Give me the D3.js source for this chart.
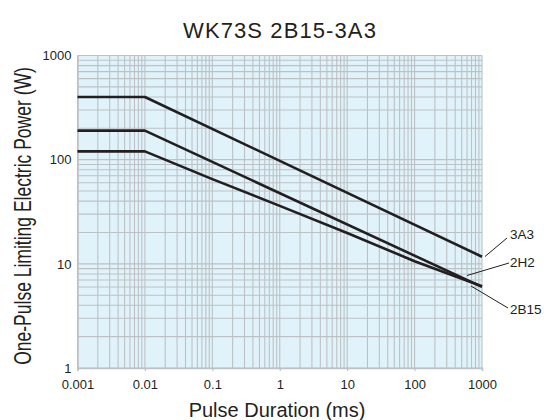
<!DOCTYPE html>
<html>
<head>
<meta charset="utf-8">
<script src="https://cdn.jsdelivr.net/npm/d3@7"></script>
<style>
  body { margin: 0; background: #fff; }
  text { font-family: "Liberation Sans", Arial, sans-serif; fill: #231f20; }
</style>
</head>
<body>
<div id="chart"></div>
<script>
// pulse duration (ms) and limiting power (W)
const duration3A3 = [0.001, 0.01, 1000];
const power3A3 = [400, 400, 11.7];
const duration2H2 = [0.001, 0.01, 1000];
const power2H2 = [190, 190, 6.0];
const duration2B15 = [0.001, 0.01, 0.1, 1, 10, 100, 1000];
const power2B15 = [120, 120, 65, 36, 19.8, 10.6, 6.1];
const seriesNames = ["3A3", "2H2", "2B15"];
const xTicks = [0.001, 0.01, 0.1, 1, 10, 100, 1000];
const xTickLabels = ["0.001", "0.01", "0.1", "1", "10", "100", "1000"];
const yTicks = [1, 10, 100, 1000];
const yTickLabels = ["1", "10", "100", "1000"];

const width = 544, height = 420;
const margin = { top: 55.5, right: 62, bottom: 52, left: 77.5 };

const svg = d3.select("#chart").append("svg")
  .attr("width", width)
  .attr("height", height);

const x = d3.scaleLog().domain([0.001, 1000]).range([margin.left, width - margin.right]);
const y = d3.scaleLog().domain([1, 1000]).range([height - margin.bottom, margin.top]);

// plot background
svg.append("rect")
  .attr("x", x(0.001)).attr("y", y(1000))
  .attr("width", x(1000) - x(0.001))
  .attr("height", y(1) - y(1000))
  .attr("fill", "#e1f3fa");

// log grid: every 1..9 step in each decade
const xGrid = [];
for (let e = -3; e < 3; e++) for (let m = 1; m <= 9; m++) xGrid.push(m * Math.pow(10, e));
xGrid.push(1000);
const yGrid = [];
for (let e = 0; e < 3; e++) for (let m = 1; m <= 9; m++) yGrid.push(m * Math.pow(10, e));
yGrid.push(1000);

const grid = svg.append("g").attr("stroke", "#bdc1c5").attr("stroke-width", 1.1);
grid.selectAll("line.v").data(xGrid).enter().append("line")
  .attr("x1", d => x(d)).attr("x2", d => x(d))
  .attr("y1", y(1000)).attr("y2", y(1));
grid.selectAll("line.h").data(yGrid).enter().append("line")
  .attr("x1", x(0.001)).attr("x2", x(1000))
  .attr("y1", d => y(d)).attr("y2", d => y(d));

// axes
const xAxis = d3.axisBottom(x).tickValues(xTicks)
  .tickFormat((d, i) => xTickLabels[i]).tickSize(3).tickPadding(9);
const gx = svg.append("g")
  .attr("transform", `translate(0,${y(1)})`)
  .call(xAxis);
gx.select(".domain").attr("stroke", "#bdc1c5").attr("stroke-width", 1.5);
gx.selectAll(".tick line").attr("stroke", "#bdc1c5").attr("stroke-width", 1.2);
gx.selectAll("text").attr("font-size", 13).attr("fill", "#231f20")
  .attr("font-family", "Liberation Sans, Arial, sans-serif");

const yAxis = d3.axisLeft(y).tickValues(yTicks)
  .tickFormat((d, i) => yTickLabels[i]).tickSize(0).tickPadding(6);
const gy = svg.append("g")
  .attr("transform", `translate(${x(0.001)},0)`)
  .call(yAxis);
gy.select(".domain").attr("stroke", "#bdc1c5").attr("stroke-width", 1.5);
gy.selectAll("text").attr("font-size", 13).attr("fill", "#231f20")
  .attr("font-family", "Liberation Sans, Arial, sans-serif");

// curves (straight in log-log, 2B15 bends a little near the end)
const series = [
  { name: seriesNames[0], xs: duration3A3, ys: power3A3 },
  { name: seriesNames[1], xs: duration2H2, ys: power2H2 },
  { name: seriesNames[2], xs: duration2B15, ys: power2B15 }
];
const line = d3.line()
  .x(d => x(d[0]))
  .y(d => y(d[1]));

svg.append("g").selectAll("path")
  .data(series)
  .enter().append("path")
  .attr("d", s => line(s.xs.map((v, i) => [v, s.ys[i]])))
  .attr("fill", "none")
  .attr("stroke", "#231f20")
  .attr("stroke-width", 2.6)
  .attr("stroke-linejoin", "round");

// leader lines and labels on the right
const leaders = [
  { name: seriesNames[0], x1: 485, y1: 256.5, x2: 507, y2: 238, ty: 234 },
  { name: seriesNames[1], x1: 467, y1: 275.5, x2: 509, y2: 263, ty: 262 },
  { name: seriesNames[2], x1: 471, y1: 286, x2: 508, y2: 308, ty: 309.5 }
];
const lab = svg.append("g");
lab.selectAll("line").data(leaders).enter().append("line")
  .attr("x1", d => d.x1).attr("y1", d => d.y1)
  .attr("x2", d => d.x2).attr("y2", d => d.y2)
  .attr("stroke", "#231f20").attr("stroke-width", 1);
lab.selectAll("text").data(leaders).enter().append("text")
  .attr("x", 510).attr("y", d => d.ty)
  .attr("dy", "0.35em")
  .attr("font-size", 13.5)
  .text(d => d.name);

// titles
svg.append("text")
  .attr("x", 280).attr("y", 37.5)
  .attr("text-anchor", "middle")
  .attr("font-size", 22)
  .attr("letter-spacing", 1.1)
  .text("WK73S 2B15-3A3");

svg.append("text")
  .attr("x", 277).attr("y", 417)
  .attr("text-anchor", "middle")
  .attr("font-size", 20)
  .text("Pulse Duration (ms)");

// the y title is drawn tall and narrow in the original
svg.append("text")
  .attr("transform", `translate(30.5,216) rotate(-90) scale(0.745,1)`)
  .attr("text-anchor", "middle")
  .attr("font-size", 23.5)
  .text("One-Pulse Limiting Electric Power (W)");
</script>
</body>
</html>
